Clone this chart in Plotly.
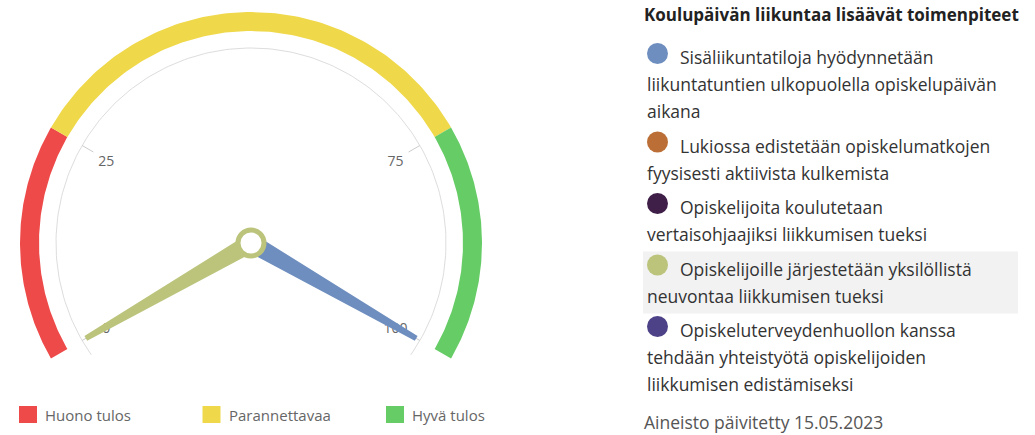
import math
import plotly.graph_objects as go

W, H = 1035, 435

# ---- gauge scale and bands ----
SCALE_MIN, SCALE_MAX = 0, 100
band_names = ["Huono tulos", "Parannettavaa", "Hyvä tulos"]
band_from = [0, 25, 75]
band_to = [25, 75, 100]
band_colors = ["#ef4a4a", "#efd84a", "#66cc66"]

tick_values = [0, 25, 75, 100]
tick_labels = ["0", "25", "75", "100"]

# ---- series (one dial per measure) ----
chart_title = "Koulupäivän liikuntaa lisäävät toimenpiteet"
series_names = [
    "Sisäliikuntatiloja hyödynnetään<br>liikuntatuntien ulkopuolella opiskelupäivän<br>aikana",
    "Lukiossa edistetään opiskelumatkojen<br>fyysisesti aktiivista kulkemista",
    "Opiskelijoita koulutetaan<br>vertaisohjaajiksi liikkumisen tueksi",
    "Opiskelijoille järjestetään yksilöllistä<br>neuvontaa liikkumisen tueksi",
    "Opiskeluterveydenhuollon kanssa<br>tehdään yhteistyötä opiskelijoiden<br>liikkumisen edistämiseksi",
]
series_colors = ["#6e8ebf", "#bb6f36", "#3f1f48", "#bcc47c", "#4d4287"]
series_values = [100, None, None, 0, None]
highlighted_series = 3
updated_text = "Aineisto päivitetty 15.05.2023"

# ---- layout constants (pixels) ----
CX, CY = 251, 243
START_DEG, END_DEG = -120, 120
R_BAND_OUT, R_BAND_IN = 231, 212
R_AXIS = 195
TICK_LEN = 13
R_LABEL = 167
NEEDLE_LEN = 190
NEEDLE_BASE_W, NEEDLE_TOP_W = 17, 4
PIVOT_R = 13
FONT = "'Open Sans', 'Noto Sans', sans-serif"


def angle_of(v):
    frac = (v - SCALE_MIN) / (SCALE_MAX - SCALE_MIN)
    return math.radians(START_DEG + frac * (END_DEG - START_DEG))


def at(r, a):
    return CX + r * math.sin(a), CY - r * math.cos(a)


def arc(r, a0, a1, n=120):
    pts = [at(r, a0 + (a1 - a0) * i / n) for i in range(n + 1)]
    return [p[0] for p in pts], [p[1] for p in pts]


fig = go.Figure()

# colour bands
for lo, hi, col, name in zip(band_from, band_to, band_colors, band_names):
    xo, yo = arc(R_BAND_OUT, angle_of(lo), angle_of(hi))
    xi, yi = arc(R_BAND_IN, angle_of(hi), angle_of(lo))
    fig.add_trace(go.Scatter(
        x=xo + xi + [xo[0]], y=yo + yi + [yo[0]], mode="lines", fill="toself",
        fillcolor=col, line=dict(width=0, color=col), name=name,
        hoverinfo="skip", showlegend=False))

# pane border arc, slightly wider than the scale
xa, ya = arc(R_AXIS, math.radians(START_DEG - 5), math.radians(END_DEG + 5), 200)
fig.add_trace(go.Scatter(x=xa, y=ya, mode="lines",
                         line=dict(color="#dddddd", width=1),
                         hoverinfo="skip", showlegend=False))

# ticks
for v in tick_values:
    a = angle_of(v)
    (x0, y0), (x1, y1) = at(R_AXIS, a), at(R_AXIS - TICK_LEN, a)
    fig.add_trace(go.Scatter(x=[x0, x1], y=[y0, y1], mode="lines",
                             line=dict(color="#cccccc", width=1),
                             hoverinfo="skip", showlegend=False))

# tick labels (drawn as a trace so the dials cover them)
lab_pos = [at(R_LABEL, angle_of(v)) for v in tick_values]
fig.add_trace(go.Scatter(
    x=[p[0] for p in lab_pos], y=[p[1] + 3 for p in lab_pos],
    mode="text", text=tick_labels, textposition="middle center",
    textfont=dict(family=FONT, size=14, color="#666666"),
    hoverinfo="skip", showlegend=False))

# dials
pivot_color = None
for val, col, name in zip(series_values, series_colors, series_names):
    if val is None:
        continue
    a = angle_of(val)
    ux, uy = math.sin(a), -math.cos(a)
    nx, ny = math.cos(a), math.sin(a)
    local = [(0, -NEEDLE_BASE_W / 2), (NEEDLE_LEN, -NEEDLE_TOP_W / 2),
             (NEEDLE_LEN, NEEDLE_TOP_W / 2), (0, NEEDLE_BASE_W / 2),
             (0, -NEEDLE_BASE_W / 2)]
    px = [CX + s * ux + t * nx for s, t in local]
    py = [CY + s * uy + t * ny for s, t in local]
    fig.add_trace(go.Scatter(x=px, y=py, mode="lines", fill="toself",
                             fillcolor=col, line=dict(color=col, width=1.5),
                             name=name.replace("<br>", " "), hoverinfo="name",
                             showlegend=False))
    pivot_color = col

shapes = []
annotations = []
if pivot_color:
    shapes.append(dict(type="circle", xref="x", yref="y",
                       x0=CX - PIVOT_R, x1=CX + PIVOT_R,
                       y0=CY - PIVOT_R, y1=CY + PIVOT_R,
                       fillcolor="white", line=dict(color=pivot_color, width=5),
                       layer="above"))

# bottom legend for the bands
for i, (name, col) in enumerate(zip(band_names, band_colors)):
    x0 = 19 + i * 183.5
    shapes.append(dict(type="rect", xref="x", yref="y", x0=x0, x1=x0 + 18,
                       y0=406, y1=423, fillcolor=col, line=dict(width=0)))
    annotations.append(dict(x=x0 + 24, y=415, text=name, showarrow=False,
                            xanchor="left", yanchor="middle",
                            font=dict(family=FONT, size=15, color="#666666")))

# right-hand legend
LX = 643
annotations.append(dict(x=LX - 1, y=14, text="<b>" + chart_title + "</b>",
                        showarrow=False, xanchor="left", yanchor="middle",
                        font=dict(family=FONT, size=17, color="#222222")))
LINE_H, ITEM_GAP = 27, 7.5
y = 57
for i, (name, col) in enumerate(zip(series_names, series_colors)):
    lines = name.split("<br>")
    if i == highlighted_series:
        shapes.append(dict(type="rect", xref="x", yref="y", layer="below",
                           x0=LX, x1=1018, y0=y - 17,
                           y1=y + (len(lines) - 1) * LINE_H + 18,
                           fillcolor="#f2f2f2", line=dict(width=0)))
    shapes.append(dict(type="circle", xref="x", yref="y",
                       x0=LX + 4, x1=LX + 25, y0=y - 14, y1=y + 7,
                       fillcolor=col, line=dict(width=0)))
    for j, line in enumerate(lines):
        annotations.append(dict(x=LX + 35 if j == 0 else LX + 2,
                                y=y + j * LINE_H, text=line, showarrow=False,
                                xanchor="left", yanchor="middle",
                                font=dict(family=FONT, size=17.5, color="#333333")))
    y += len(lines) * LINE_H + ITEM_GAP

annotations.append(dict(x=LX - 1, y=y + 3.5, text=updated_text, showarrow=False,
                        xanchor="left", yanchor="middle",
                        font=dict(family=FONT, size=17.5, color="#555555")))

fig.update_layout(
    width=W, height=H, autosize=False,
    margin=dict(l=0, r=0, t=0, b=0),
    paper_bgcolor="white", plot_bgcolor="white",
    xaxis=dict(range=[0, W], visible=False, fixedrange=True),
    yaxis=dict(range=[H, 0], visible=False, fixedrange=True),
    shapes=shapes, annotations=annotations, showlegend=False,
)

fig.write_html("out.html")
